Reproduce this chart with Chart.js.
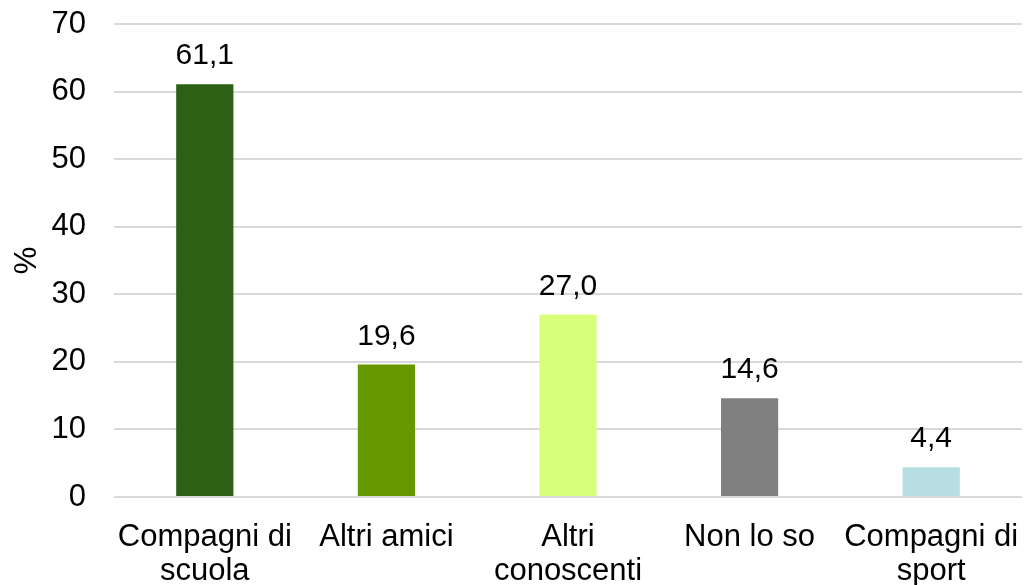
<!DOCTYPE html>
<html>
  <head>
    <meta charset="UTF-8"/>
    <title>Compagni</title>
    <script src="https://cdn.jsdelivr.net/npm/chart.js@4/dist/chart.umd.min.js"></script>
    <style>
     html, body { margin: 0; padding: 0; background: #fff; }
     #wrap { width: 1025px; height: 585px; }
    </style>
  </head>
  <body>
    <div id="wrap">
      <canvas id="chart" width="1025" height="585"></canvas>
    </div>
    <script>
     var categories = [
         ["Compagni di", "scuola"],
         "Altri amici",
         ["Altri", "conoscenti"],
         "Non lo so",
         ["Compagni di", "sport"]
     ];
     var values = [61.1, 19.6, 27.0, 14.6, 4.4];
     var colors = ["#2B6015", "#669900", "#D9FF7A", "#808080", "#B7DEE1"];
     var yTitle = "%";

     var font = "'Liberation Sans', Arial, sans-serif";

     // etichette dei valori sopra le barre
     var valueLabels = {
         id: "valueLabels",
         afterDatasetsDraw: function(chart){
             var ctx = chart.ctx;
             var meta = chart.getDatasetMeta(0);
             ctx.save();
             ctx.font = "30px " + font;
             ctx.fillStyle = "#000";
             ctx.textAlign = "center";
             ctx.textBaseline = "alphabetic";
             meta.data.forEach(function(bar, i){
                 var txt = values[i].toFixed(1).replace(".", ",");
                 ctx.fillText(txt, bar.x, bar.y - 20);
             });
             ctx.restore();
         }
     };

     new Chart("chart", {
         type: "bar",
         data: {
             labels: categories,
             datasets: [{
                 data: values,
                 backgroundColor: colors,
                 borderWidth: 0,
                 barPercentage: 1,
                 categoryPercentage: 0.315
             }]
         },
         options: {
             responsive: false,
             animation: false,
             layout: { padding: { top: 24, right: 3, left: 0, bottom: 0 } },
             plugins: {
                 legend: { display: false },
                 tooltip: { enabled: false }
             },
             scales: {
                 x: {
                     grid: { display: false, drawTicks: false },
                     border: { display: false },
                     ticks: {
                         color: "#000",
                         padding: 23,
                         maxRotation: 0,
                         autoSkip: false,
                         font: { family: font, size: 31, lineHeight: 1.1 }
                     },
                     afterFit: function(scale){
                         scale.height = 88;
                         scale.paddingLeft = 0;
                         scale.paddingRight = 0;
                     }
                 },
                 y: {
                     min: 0,
                     max: 70,
                     grid: { color: "#D9D9D9", lineWidth: 2, drawTicks: false },
                     border: { display: false },
                     ticks: {
                         stepSize: 10,
                         color: "#000",
                         padding: 28,
                         font: { family: font, size: 31 }
                     },
                     title: {
                         display: true,
                         text: yTitle,
                         color: "#000",
                         padding: { top: 9, bottom: 4 },
                         font: { family: font, size: 31 }
                     },
                     afterFit: function(scale){
                         scale.width = 114;
                         scale.paddingTop = 0;
                         scale.paddingBottom = 0;
                     }
                 }
             }
         },
         plugins: [valueLabels]
     });
    </script>
  </body>
</html>
